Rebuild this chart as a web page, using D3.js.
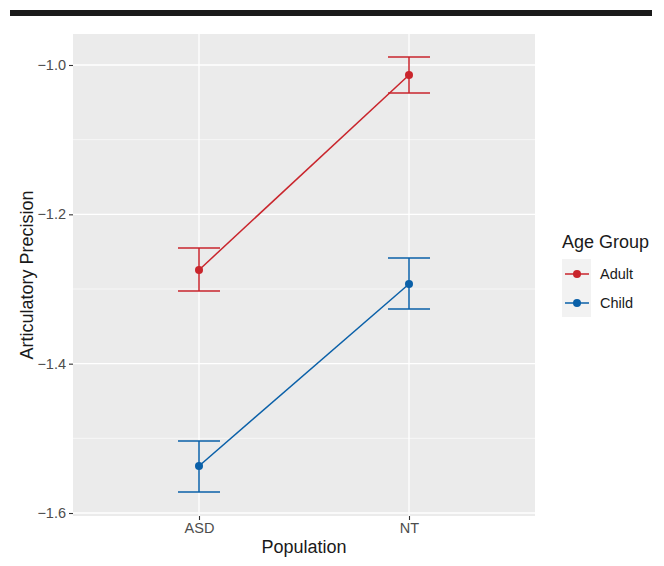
<!DOCTYPE html>
<html>
<head>
<meta charset="utf-8">
<script src="https://cdn.jsdelivr.net/npm/d3@7"></script>
<style>
  body { margin: 0; background: #fff; }
  svg { display: block; font-family: "Liberation Sans", Arial, sans-serif; }
</style>
</head>
<body>
<script>
var populations = ['ASD', 'NT'];
var groups = ['Adult', 'Child'];
var groupColors = ['#c9252c', '#0a60a8'];
// mean, lower, upper per group, in population order
var adultMean = [-1.2745, -1.0134];
var adultLow = [-1.3027, -1.0375];
var adultHigh = [-1.2450, -0.9893];
var childMean = [-1.5370, -1.2933];
var childLow = [-1.5718, -1.3268];
var childHigh = [-1.5035, -1.2585];
var yTicks = [-1.6, -1.4, -1.2, -1.0];
var yMinor = [-1.5, -1.3, -1.1];

(function () {
  var width = 664,
    height = 566,
    left = 73,
    right = 535,
    top = 34,
    bottom = 516,
    svg, x, y, series, panel, xAxis, yAxis, legend;

  series = [
    { name: groups[0], color: groupColors[0], mean: adultMean, low: adultLow, high: adultHigh },
    { name: groups[1], color: groupColors[1], mean: childMean, low: childLow, high: childHigh }
  ];

  x = d3.scalePoint()
    .domain(populations)
    .range([left, right])
    .padding(0.6);

  y = d3.scaleLinear()
    .domain([-1.604, -0.9585])
    .range([bottom, top]);

  svg = d3.select('body')
    .append('svg')
    .attr('width', width)
    .attr('height', height);

  // black rule at the top
  svg.append('rect')
    .attr('x', 10)
    .attr('y', 10)
    .attr('width', 642)
    .attr('height', 6)
    .attr('fill', '#1a1a1a');

  panel = svg.append('g');

  panel.append('rect')
    .attr('x', left)
    .attr('y', top)
    .attr('width', right - left)
    .attr('height', bottom - top)
    .attr('fill', '#ebebeb');

  panel.selectAll('.minor')
    .data(yMinor)
    .enter()
    .append('line')
    .attr('x1', left)
    .attr('x2', right)
    .attr('y1', function (d) { return y(d); })
    .attr('y2', function (d) { return y(d); })
    .attr('stroke', '#fff')
    .attr('stroke-width', 0.6);

  panel.selectAll('.hmajor')
    .data(yTicks)
    .enter()
    .append('line')
    .attr('x1', left)
    .attr('x2', right)
    .attr('y1', function (d) { return y(d); })
    .attr('y2', function (d) { return y(d); })
    .attr('stroke', '#fff')
    .attr('stroke-width', 1.3);

  panel.selectAll('.vmajor')
    .data(populations)
    .enter()
    .append('line')
    .attr('x1', function (d) { return x(d); })
    .attr('x2', function (d) { return x(d); })
    .attr('y1', top)
    .attr('y2', bottom)
    .attr('stroke', '#fff')
    .attr('stroke-width', 1.3);

  series.forEach(function (s) {
    var g = svg.append('g');
    var capHalf = x.step() * 0.1;

    g.append('path')
      .datum(populations)
      .attr('fill', 'none')
      .attr('stroke', s.color)
      .attr('stroke-width', 1.5)
      .attr('d', d3.line()
        .x(function (d) { return x(d); })
        .y(function (d, i) { return y(s.mean[i]); }));

    populations.forEach(function (p, i) {
      g.append('line')
        .attr('x1', x(p)).attr('x2', x(p))
        .attr('y1', y(s.low[i])).attr('y2', y(s.high[i]))
        .attr('stroke', s.color).attr('stroke-width', 1.5);
      [s.low[i], s.high[i]].forEach(function (v) {
        g.append('line')
          .attr('x1', x(p) - capHalf).attr('x2', x(p) + capHalf)
          .attr('y1', y(v)).attr('y2', y(v))
          .attr('stroke', s.color).attr('stroke-width', 1.5);
      });
      g.append('circle')
        .attr('cx', x(p))
        .attr('cy', y(s.mean[i]))
        .attr('r', 4)
        .attr('fill', s.color);
    });
  });

  xAxis = d3.axisBottom(x).tickSize(4).tickPadding(3);
  yAxis = d3.axisLeft(y).tickValues(yTicks).tickFormat(d3.format('.1f')).tickSize(4).tickPadding(3);

  svg.append('g')
    .attr('transform', 'translate(0,' + bottom + ')')
    .call(xAxis)
    .call(function (g) { g.select('.domain').remove(); });

  svg.append('g')
    .attr('transform', 'translate(' + left + ',0)')
    .call(yAxis)
    .call(function (g) { g.select('.domain').remove(); });

  svg.selectAll('.tick line').attr('stroke', '#333').attr('stroke-width', 1.1);
  svg.selectAll('.tick text')
    .attr('fill', '#4d4d4d')
    .style('font-size', '14.5px')
    .style('font-family', '"Liberation Sans", Arial, sans-serif');

  svg.append('text')
    .attr('x', (left + right) / 2)
    .attr('y', 553)
    .attr('text-anchor', 'middle')
    .style('font-size', '18px')
    .attr('fill', '#1a1a1a')
    .text('Population');

  svg.append('text')
    .attr('transform', 'translate(33,' + (top + bottom) / 2 + ') rotate(-90)')
    .attr('text-anchor', 'middle')
    .style('font-size', '18px')
    .attr('fill', '#1a1a1a')
    .text('Articulatory Precision');

  // legend
  legend = svg.append('g');

  legend.append('text')
    .attr('x', 562)
    .attr('y', 248)
    .style('font-size', '18px')
    .attr('fill', '#1a1a1a')
    .text('Age Group');

  legend.append('rect')
    .attr('x', 562)
    .attr('y', 259)
    .attr('width', 29)
    .attr('height', 58)
    .attr('fill', '#f2f2f2');

  series.forEach(function (s, i) {
    var cy = 274 + i * 29;
    legend.append('line')
      .attr('x1', 565).attr('x2', 589)
      .attr('y1', cy).attr('y2', cy)
      .attr('stroke', s.color).attr('stroke-width', 1.5);
    legend.append('circle')
      .attr('cx', 577).attr('cy', cy).attr('r', 4)
      .attr('fill', s.color);
    legend.append('text')
      .attr('x', 600)
      .attr('y', cy + 5)
      .style('font-size', '14.5px')
      .attr('fill', '#1a1a1a')
      .text(s.name);
  });
}());
</script>
</body>
</html>
